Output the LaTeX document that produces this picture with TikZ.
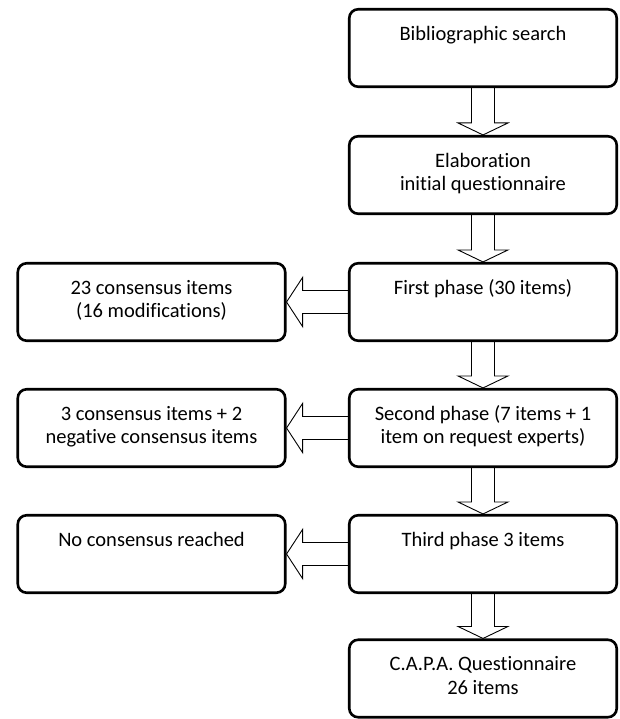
\documentclass[tikz,border=0pt]{standalone}
\usepackage{fontspec}
\setmainfont{Carlito}[Ligatures={NoCommon,NoRequired,NoContextual}]
\usepackage{tikz}
\usetikzlibrary{calc}
\tikzset{
    stage/.style={draw, line width=2.6pt, rounded corners=9pt, inner sep=0pt, minimum width=267.5pt, minimum height=77.5pt},
    fatdown/.style={line width=0.9pt, to path={($(\tikztostart)+(-11.5,0)$) -- ($(\tikztotarget)+(-11.5,12)$) -- ($(\tikztotarget)+(-25,12)$) -- (\tikztotarget) -- ($(\tikztotarget)+(25,12)$) -- ($(\tikztotarget)+(11.5,12)$) -- ($(\tikztostart)+(11.5,0)$)}},
    fatleft/.style={line width=0.9pt, to path={($(\tikztostart)+(0,11.5)$) -- ($(\tikztotarget)+(16,11.5)$) -- ($(\tikztotarget)+(16,24.5)$) -- (\tikztotarget) -- ($(\tikztotarget)+(16,-24.5)$) -- ($(\tikztotarget)+(16,-11.5)$) -- ($(\tikztostart)+(0,-11.5)$)}}
}
\newcommand{\stagetext}[1]{\parbox[c][77.5pt][t]{262pt}{\centering\fontsize{20.5pt}{23.5pt}\selectfont\rule{0pt}{31pt}#1}}

\begin{document}
\begin{tikzpicture}[x=1pt, y=1pt]
    \useasboundingbox (0,0) rectangle (619,-719);
    % main column
    \node[stage] (bib) at (483,-48) {\stagetext{Bibliographic search}};
    \node[stage] (elab) at (483,-175) {\stagetext{Elaboration\\initial questionnaire}};
    \node[stage] (first) at (483,-302) {\stagetext{First phase (30 items)}};
    \node[stage] (second) at (483,-428) {\stagetext{Second phase (7 items + 1\\item on request experts)}};
    \node[stage] (third) at (483,-554) {\stagetext{Third phase 3 items}};
    \node[stage] (capa) at (483,-678.5) {\stagetext{C.A.P.A. Questionnaire\\26 items}};
    % results of each phase
    \node[stage] (cons1) at (151.5,-302) {\stagetext{23 consensus items\\(16 modifications)}};
    \node[stage] (cons2) at (151.5,-428) {\stagetext{3 consensus items + 2\\negative consensus items}};
    \node[stage] (nocons) at (151.5,-554) {\stagetext{No consensus reached}};
    % block arrows
    \draw[fatdown] (bib.south) to (elab.north);
    \draw[fatdown] (elab.south) to (first.north);
    \draw[fatdown] (first.south) to (second.north);
    \draw[fatdown] (second.south) to (third.north);
    \draw[fatdown] (third.south) to (capa.north);
    \draw[fatleft] (first.west) to (cons1.east);
    \draw[fatleft] (second.west) to (cons2.east);
    \draw[fatleft] (third.west) to (nocons.east);
\end{tikzpicture}
\end{document}
